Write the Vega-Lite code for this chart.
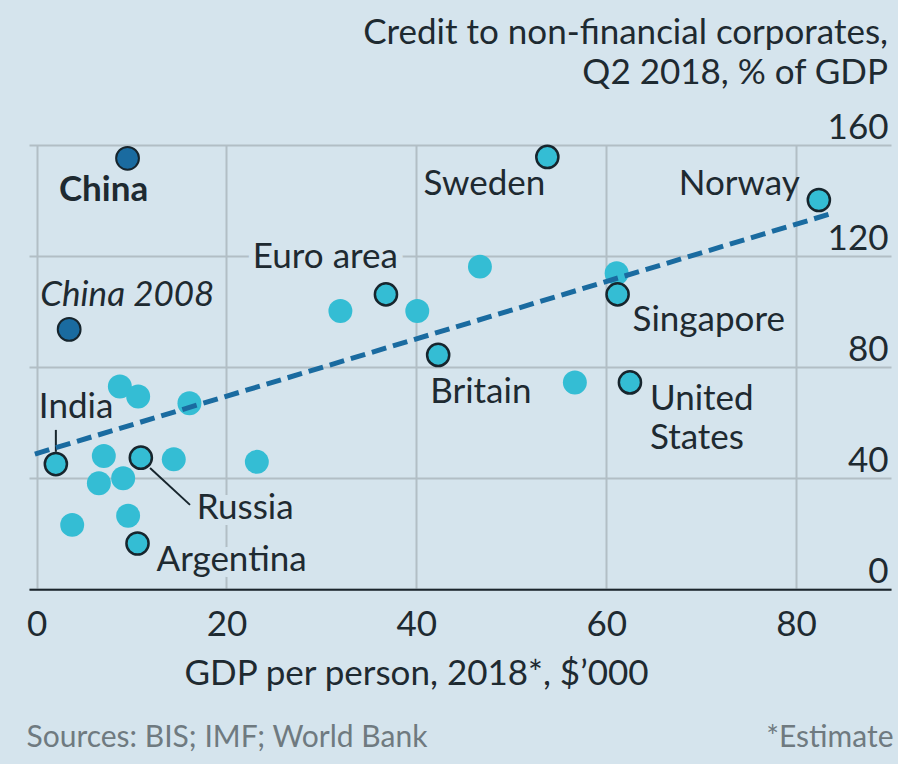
{
  "$schema": "https://vega.github.io/schema/vega-lite/v6.json",
  "width": 862,
  "height": 444.3,
  "autosize": {"type": "none"},
  "padding": {"left": 29, "top": 145, "right": 7, "bottom": 174.7},
  "config": {
    "background": "#d5e4ed",
    "view": {"stroke": null},
    "font": "Lato",
    "text": {"font": "Lato"}
  },
  "title": {
    "text": ["Credit to non-financial corporates,", "Q2 2018, % of GDP"],
    "anchor": "end",
    "frame": "group",
    "fontSize": 35,
    "fontWeight": "normal",
    "color": "#1e2a31",
    "lineHeight": 40,
    "dx": -3,
    "offset": 19
  },
  "datasets": {
    "pts": [
      {"name": "China", "x": 9.58, "y": 155.2, "group": "china"},
      {"name": "China 2008", "x": 3.43, "y": 93.6, "group": "china"},
      {"name": "Sweden", "x": 53.8, "y": 155.7, "group": "labelled"},
      {"name": "Norway", "x": 82.4, "y": 140.2, "group": "labelled"},
      {"name": "Euro area", "x": 36.8, "y": 106.2, "group": "labelled"},
      {"name": "Singapore", "x": 61.2, "y": 106.2, "group": "labelled"},
      {"name": "Britain", "x": 42.3, "y": 84.4, "group": "labelled"},
      {"name": "United States", "x": 62.5, "y": 74.5, "group": "labelled"},
      {"name": "India", "x": 2.03, "y": 45.1, "group": "labelled"},
      {"name": "Russia", "x": 10.98, "y": 47.4, "group": "labelled"},
      {"name": "Argentina", "x": 10.63, "y": 16.5, "group": "labelled"},
      {"name": "", "x": 61.1, "y": 113.8, "group": "other"},
      {"name": "", "x": 56.7, "y": 74.5, "group": "other"},
      {"name": "", "x": 46.7, "y": 116.2, "group": "other"},
      {"name": "", "x": 32.0, "y": 100.2, "group": "other"},
      {"name": "", "x": 40.1, "y": 100.2, "group": "other"},
      {"name": "", "x": 8.77, "y": 73.0, "group": "other"},
      {"name": "", "x": 10.7, "y": 69.4, "group": "other"},
      {"name": "", "x": 16.1, "y": 67.0, "group": "other"},
      {"name": "", "x": 7.08, "y": 48.0, "group": "other"},
      {"name": "", "x": 14.45, "y": 46.8, "group": "other"},
      {"name": "", "x": 23.2, "y": 45.9, "group": "other"},
      {"name": "", "x": 6.56, "y": 38.2, "group": "other"},
      {"name": "", "x": 9.12, "y": 40.0, "group": "other"},
      {"name": "", "x": 3.75, "y": 23.2, "group": "other"},
      {"name": "", "x": 9.64, "y": 26.5, "group": "other"}
    ],
    "trend": [
      {"x": -0.18, "y": 48.7},
      {"x": 83.8, "y": 135.4}
    ],
    "leaders": [
      {"name": "India", "x": 2.03, "y": 49.5, "x2": 2.03, "y2": 57.4},
      {"name": "Russia", "x": 11.95, "y": 43.7, "x2": 16.16, "y2": 30.4}
    ]
  },
  "layer": [
    {
      "encoding": {
        "x": {
          "field": "x",
          "type": "quantitative",
          "scale": {"domain": [-0.8, 90], "nice": false, "zero": false},
          "axis": {
            "orient": "bottom",
            "values": [0, 20, 40, 60, 80],
            "grid": true,
            "gridColor": "#b2bec5",
            "gridWidth": 2,
            "domain": true,
            "domainColor": "#1b252c",
            "domainWidth": 2,
            "ticks": false,
            "tickSize": 0,
            "labelFont": "Lato",
            "labelFontSize": 35,
            "labelColor": "#1e2a31",
            "labelBaseline": "alphabetic",
            "labelPadding": 46,
            "labelFlush": false,
            "labelOverlap": false,
            "labelBound": false,
            "title": "GDP per person, 2018*, $’000",
            "titleFont": "Lato",
            "titleFontSize": 35,
            "titleFontWeight": "normal",
            "titleColor": "#1e2a31",
            "titleAlign": "center",
            "titleBaseline": "alphabetic",
            "titleX": 387,
            "titleY": 95
          }
        },
        "y": {
          "field": "y",
          "type": "quantitative",
          "scale": {"domain": [0, 160], "nice": false, "zero": false},
          "axis": {
            "orient": "right",
            "values": [0, 40, 80, 120, 160],
            "grid": true,
            "gridColor": "#b2bec5",
            "gridWidth": 2,
            "domain": false,
            "ticks": false,
            "tickSize": 0,
            "labelFont": "Lato",
            "labelFontSize": 35,
            "labelColor": "#1e2a31",
            "labelAlign": "right",
            "labelBaseline": "alphabetic",
            "labelPadding": -3,
            "labelOffset": -7,
            "labelFlush": false,
            "labelOverlap": false,
            "labelBound": false,
            "title": "Sources: BIS; IMF; World Bank",
            "titleFont": "Lato",
            "titleFontSize": 30,
            "titleFontWeight": "normal",
            "titleColor": "#6f7a80",
            "titleAngle": 0,
            "titleAlign": "left",
            "titleBaseline": "alphabetic",
            "titleX": -865,
            "titleY": 601.7
          }
        }
      },
      "layer": [
        {
          "data": {"name": "pts"},
          "transform": [{"filter": "datum.group === 'other'"}],
          "mark": {"type": "circle", "size": 573, "fill": "#34bdd4", "opacity": 1}
        },
        {
          "data": {"name": "pts"},
          "transform": [{"filter": "datum.group === 'labelled'"}],
          "mark": {"type": "circle", "size": 490, "fill": "#34bdd4", "stroke": "#17252d", "strokeWidth": 2.5, "opacity": 1}
        },
        {
          "data": {"name": "pts"},
          "transform": [{"filter": "datum.group === 'china'"}],
          "mark": {"type": "circle", "size": 520, "fill": "#1a6ba0", "stroke": "#17252d", "strokeWidth": 2, "opacity": 1}
        },
        {
          "data": {"name": "leaders"},
          "mark": {"type": "rule", "stroke": "#17252d", "strokeWidth": 2},
          "encoding": {"x2": {"field": "x2"}, "y2": {"field": "y2"}}
        },
        {
          "data": {"name": "trend"},
          "mark": {"type": "line", "stroke": "#1a6ba0", "strokeWidth": 5, "strokeDash": [15, 7]},
          "encoding": {}
        },
        {
          "data": {"name": "pts"},
          "transform": [{"filter": "datum.name === 'Euro area'"}],
          "mark": {"type": "text", "align": "right", "baseline": "alphabetic", "dx": 12, "dy": -26, "fontSize": 35, "fill": "#d5e4ed", "stroke": "#d5e4ed", "strokeWidth": 14},
          "encoding": {"text": {"field": "name"}}
        },
        {
          "data": {"name": "pts"},
          "transform": [{"filter": "datum.name === 'Russia'"}],
          "mark": {"type": "text", "align": "left", "baseline": "alphabetic", "dx": 56, "dy": 61, "fontSize": 35, "fill": "#d5e4ed", "stroke": "#d5e4ed", "strokeWidth": 12},
          "encoding": {"text": {"field": "name"}}
        },
        {
          "data": {"name": "pts"},
          "transform": [{"filter": "datum.name === 'Argentina'"}],
          "mark": {"type": "text", "align": "left", "baseline": "alphabetic", "dx": 19, "dy": 28, "fontSize": 35, "fill": "#d5e4ed", "stroke": "#d5e4ed", "strokeWidth": 12},
          "encoding": {"text": {"field": "name"}}
        },
        {
          "data": {"name": "pts"},
          "transform": [{"filter": "datum.name === 'China'"}],
          "mark": {"type": "text", "align": "center", "baseline": "alphabetic", "dx": -24, "dy": 43, "fontSize": 35, "fontWeight": "bold", "fill": "#1e2a31"},
          "encoding": {"text": {"field": "name"}}
        },
        {
          "data": {"name": "pts"},
          "transform": [{"filter": "datum.name === 'China 2008'"}],
          "mark": {"type": "text", "align": "left", "baseline": "alphabetic", "dx": -29, "dy": -23, "fontSize": 35, "fontStyle": "italic", "fill": "#1e2a31"},
          "encoding": {"text": {"field": "name"}}
        },
        {
          "data": {"name": "pts"},
          "transform": [{"filter": "datum.name === 'Sweden'"}],
          "mark": {"type": "text", "align": "right", "baseline": "alphabetic", "dx": -2, "dy": 38, "fontSize": 35, "fill": "#1e2a31"},
          "encoding": {"text": {"field": "name"}}
        },
        {
          "data": {"name": "pts"},
          "transform": [{"filter": "datum.name === 'Norway'"}],
          "mark": {"type": "text", "align": "right", "baseline": "alphabetic", "dx": -19, "dy": -5, "fontSize": 35, "fill": "#1e2a31"},
          "encoding": {"text": {"field": "name"}}
        },
        {
          "data": {"name": "pts"},
          "transform": [{"filter": "datum.name === 'Euro area'"}],
          "mark": {"type": "text", "align": "right", "baseline": "alphabetic", "dx": 12, "dy": -26, "fontSize": 35, "fill": "#1e2a31"},
          "encoding": {"text": {"field": "name"}}
        },
        {
          "data": {"name": "pts"},
          "transform": [{"filter": "datum.name === 'Singapore'"}],
          "mark": {"type": "text", "align": "left", "baseline": "alphabetic", "dx": 15, "dy": 37, "fontSize": 35, "fill": "#1e2a31"},
          "encoding": {"text": {"field": "name"}}
        },
        {
          "data": {"name": "pts"},
          "transform": [{"filter": "datum.name === 'Britain'"}],
          "mark": {"type": "text", "align": "left", "baseline": "alphabetic", "dx": -8, "dy": 48, "fontSize": 35, "fill": "#1e2a31"},
          "encoding": {"text": {"field": "name"}}
        },
        {
          "data": {"name": "pts"},
          "transform": [{"filter": "datum.name === 'United States'"}],
          "mark": {"type": "text", "align": "left", "baseline": "alphabetic", "dx": 20, "dy": 28, "fontSize": 35, "lineBreak": " ", "lineHeight": 38.3, "fill": "#1e2a31"},
          "encoding": {"text": {"field": "name"}}
        },
        {
          "data": {"name": "pts"},
          "transform": [{"filter": "datum.name === 'India'"}],
          "mark": {"type": "text", "align": "left", "baseline": "alphabetic", "dx": -17, "dy": -46, "fontSize": 35, "fill": "#1e2a31"},
          "encoding": {"text": {"field": "name"}}
        },
        {
          "data": {"name": "pts"},
          "transform": [{"filter": "datum.name === 'Russia'"}],
          "mark": {"type": "text", "align": "left", "baseline": "alphabetic", "dx": 56, "dy": 61, "fontSize": 35, "fill": "#1e2a31"},
          "encoding": {"text": {"field": "name"}}
        },
        {
          "data": {"name": "pts"},
          "transform": [{"filter": "datum.name === 'Argentina'"}],
          "mark": {"type": "text", "align": "left", "baseline": "alphabetic", "dx": 19, "dy": 28, "fontSize": 35, "fill": "#1e2a31"},
          "encoding": {"text": {"field": "name"}}
        }
      ]
    },
    {
      "data": {"name": "pts"},
      "mark": {"type": "point", "opacity": 0},
      "encoding": {
        "x": {"field": "x", "type": "quantitative", "axis": null},
        "y": {
          "field": "y",
          "type": "quantitative",
          "axis": {
            "orient": "left",
            "grid": false,
            "domain": false,
            "ticks": false,
            "labels": false,
            "title": "*Estimate",
            "titleFont": "Lato",
            "titleFontSize": 30,
            "titleFontWeight": "normal",
            "titleColor": "#6f7a80",
            "titleAngle": 0,
            "titleAlign": "right",
            "titleBaseline": "alphabetic",
            "titleX": 864,
            "titleY": 601.7
          }
        }
      }
    }
  ],
  "resolve": {"axis": {"x": "independent", "y": "independent"}}
}
